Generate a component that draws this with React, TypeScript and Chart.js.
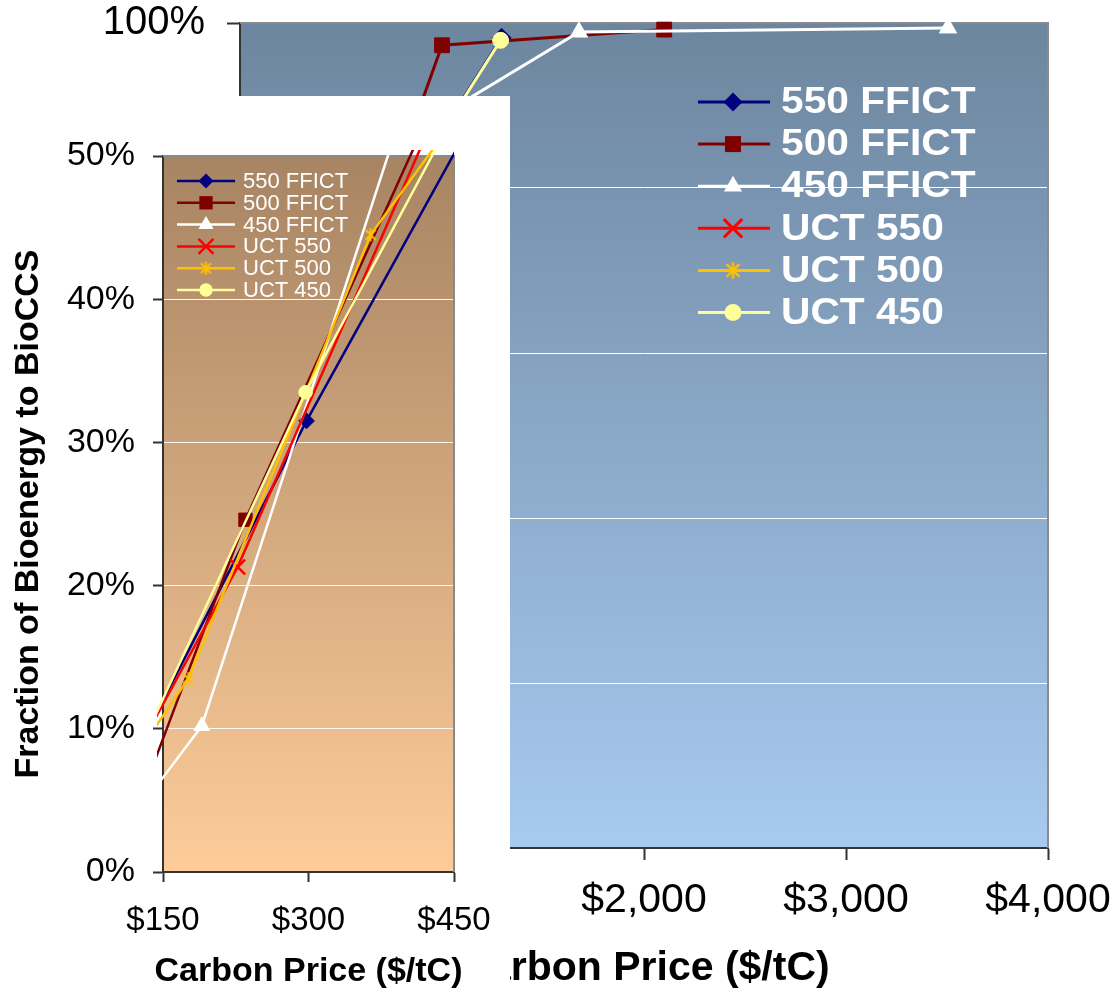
import React, { useEffect, useRef } from "react";
import { Chart, registerables } from "chart.js";

Chart.register(...registerables);

const FONT = "'Liberation Sans', Arial, Helvetica, sans-serif";

// Series (carbon price in $/tC, fraction of bioenergy to BioCCS in %)
const seriesNames = ["550 FFICT", "500 FFICT", "450 FFICT", "UCT 550", "UCT 500", "UCT 450"];
const seriesColors = ["#000080", "#800000", "#FFFFFF", "#FF0000", "#FFC000", "#FFFF99"];
const seriesStyles = ["rectRot", "rect", "triangle", "crossRot", "star", "circle"];

const ffict550Price = [100, 298, 633, 1295];
const ffict550Share = [5.4, 31.5, 72.6, 98.2];
const ffict500Price = [120, 235, 485, 1000, 2100];
const ffict500Share = [3.9, 24.6, 62, 97.3, 99.2];
const ffict450Price = [110, 190, 536, 1678, 3505];
const ffict450Share = [3.0, 10.2, 82, 98.9, 99.4];
const uct550Price = [100, 227, 515];
const uct550Share = [5.5, 21.3, 66];
const uct500Price = [120, 176, 364, 520];
const uct500Share = [7.9, 13.5, 44.5, 59];
const uct450Price = [100, 297, 593, 1290];
const uct450Share = [4.8, 33.5, 71, 97.9];

const seriesPrices = [ffict550Price, ffict500Price, ffict450Price, uct550Price, uct500Price, uct450Price];
const seriesShares = [ffict550Share, ffict500Share, ffict450Share, uct550Share, uct500Share, uct450Share];

// Axes
const mainPriceRange = [0, 4000, 1000];
const mainShareRange = [0, 100, 20];
const insetPriceRange = [150, 450, 150];
const insetShareRange = [0, 50, 10];
const xTitle = "Carbon Price ($/tC)";
const yTitle = "Fraction of Bioenergy to BioCCS";

function makeStar(size: number, color: string, lw: number) {
  const c = document.createElement("canvas");
  c.width = size;
  c.height = size;
  const g = c.getContext("2d")!;
  g.strokeStyle = color;
  g.lineWidth = lw;
  const m = size / 2;
  const r = size / 2 - lw / 2;
  const d = r * 0.78;
  g.beginPath();
  g.moveTo(m, m - r);
  g.lineTo(m, m + r);
  g.moveTo(m - d, m - d);
  g.lineTo(m + d, m + d);
  g.moveTo(m - d, m + d);
  g.lineTo(m + d, m - d);
  g.stroke();
  return c;
}

function drawMarker(ctx: CanvasRenderingContext2D, style: string, x: number, y: number, r: number, color: string, lw: number, img: HTMLCanvasElement) {
  ctx.save();
  ctx.fillStyle = color;
  ctx.strokeStyle = color;
  ctx.lineWidth = lw;
  ctx.beginPath();
  if (style === "rectRot") {
    ctx.moveTo(x, y - r);
    ctx.lineTo(x + r, y);
    ctx.lineTo(x, y + r);
    ctx.lineTo(x - r, y);
    ctx.closePath();
    ctx.fill();
  } else if (style === "rect") {
    const h = r * Math.SQRT1_2;
    ctx.rect(x - h, y - h, 2 * h, 2 * h);
    ctx.fill();
  } else if (style === "triangle") {
    ctx.moveTo(x, y - r);
    ctx.lineTo(x + 0.866 * r, y + 0.5 * r);
    ctx.lineTo(x - 0.866 * r, y + 0.5 * r);
    ctx.closePath();
    ctx.fill();
  } else if (style === "crossRot") {
    const d = r * Math.SQRT1_2;
    ctx.moveTo(x - d, y - d);
    ctx.lineTo(x + d, y + d);
    ctx.moveTo(x - d, y + d);
    ctx.lineTo(x + d, y - d);
    ctx.stroke();
  } else if (style === "star") {
    ctx.drawImage(img, x - img.width / 2, y - img.height / 2);
  } else {
    ctx.arc(x, y, r, 0, Math.PI * 2);
    ctx.fill();
  }
  ctx.restore();
}

function backgroundPlugin(top: string, bottom: string, white: boolean) {
  return {
    id: "bg",
    beforeDraw(chart: any) {
      const { ctx, chartArea } = chart;
      ctx.save();
      if (white) {
        ctx.fillStyle = "#ffffff";
        ctx.fillRect(0, 0, chart.width, chart.height);
      }
      const g = ctx.createLinearGradient(0, chartArea.top, 0, chartArea.bottom);
      g.addColorStop(0, top);
      g.addColorStop(1, bottom);
      ctx.fillStyle = g;
      ctx.fillRect(chartArea.left, chartArea.top, chartArea.right - chartArea.left, chartArea.bottom - chartArea.top);
      ctx.restore();
    },
    beforeDatasetsDraw(chart: any) {
      const { ctx, chartArea } = chart;
      ctx.save();
      ctx.strokeStyle = "#8a8a8a";
      ctx.lineWidth = 2;
      ctx.beginPath();
      ctx.moveTo(chartArea.left, chartArea.top);
      ctx.lineTo(chartArea.right, chartArea.top);
      ctx.lineTo(chartArea.right, chartArea.bottom);
      ctx.stroke();
      ctx.restore();
    },
  };
}

function bottomTitlePlugin(text: string, y: number, font: string) {
  return {
    id: "bottomTitle",
    afterDraw(chart: any) {
      const { ctx, chartArea } = chart;
      ctx.save();
      ctx.fillStyle = "#000";
      ctx.font = font;
      ctx.textAlign = "center";
      ctx.textBaseline = "middle";
      ctx.fillText(text, (chartArea.left + chartArea.right) / 2, y);
      ctx.restore();
    },
  };
}

function legendPlugin(cfg: any) {
  return {
    id: "customLegend",
    afterDatasetsDraw(chart: any) {
      const { ctx } = chart;
      chart.data.datasets.forEach((ds: any, i: number) => {
        const y = cfg.y0 + i * cfg.dy;
        ctx.save();
        ctx.strokeStyle = seriesColors[i];
        ctx.lineWidth = cfg.lineWidth;
        ctx.beginPath();
        ctx.moveTo(cfg.x0, y);
        ctx.lineTo(cfg.x1, y);
        ctx.stroke();
        ctx.restore();
        drawMarker(ctx, seriesStyles[i], cfg.mx, y, cfg.radii[i], seriesColors[i], cfg.markerLw, cfg.star);
        ctx.save();
        ctx.fillStyle = "#ffffff";
        ctx.font = cfg.font;
        ctx.textBaseline = "middle";
        ctx.textAlign = "left";
        ctx.translate(cfg.tx, y);
        ctx.scale(cfg.sx, 1);
        ctx.fillText(ds.label, 0, 1);
        ctx.restore();
      });
    },
  };
}

function fixSize(prop: "width" | "height", v: number) {
  return (s: any) => {
    s[prop] = v;
    s.paddingLeft = 0;
    s.paddingRight = 0;
    s.paddingTop = 0;
    s.paddingBottom = 0;
  };
}

function buildDatasets(radii: number[], star: HTMLCanvasElement, lw: number, clip: any) {
  return seriesNames.map((name, i) => ({
    label: name,
    data: seriesPrices[i].map((p, j) => ({ x: p, y: seriesShares[i][j] })),
    borderColor: seriesColors[i],
    backgroundColor: seriesColors[i],
    pointBackgroundColor: seriesColors[i],
    pointBorderColor: seriesColors[i],
    pointStyle: seriesStyles[i] === "star" ? star : seriesStyles[i],
    pointRadius: radii[i],
    pointBorderWidth: seriesStyles[i] === "crossRot" ? lw : 1,
    borderWidth: lw,
    tension: 0,
    fill: false,
    order: 10 - i,
    clip,
  }));
}

export default function App() {
  const mainRef = useRef<HTMLCanvasElement>(null);
  const insetRef = useRef<HTMLCanvasElement>(null);

  useEffect(() => {
    const starMain = makeStar(18, "#FFC000", 2.5);
    const starInset = makeStar(15, "#FFC000", 2);
    const starMainLeg = makeStar(19, "#FFC000", 2.5);

    const mainChart = new Chart(mainRef.current!, {
      type: "line",
      data: { datasets: buildDatasets([9.5, 10.5, 10, 12, 9, 8], starMain, 3, false) as any },
      options: {
        responsive: false,
        animation: false,
        events: [],
        layout: { padding: { left: 0, top: 23, right: 70, bottom: 0 } },
        plugins: { legend: { display: false }, tooltip: { enabled: false } },
        scales: {
          x: {
            type: "linear",
            min: mainPriceRange[0],
            max: mainPriceRange[1],
            afterFit: fixSize("height", 153),
            ticks: {
              stepSize: mainPriceRange[2],
              callback: (v: any) => "$" + Number(v).toLocaleString("en-US"),
              font: { family: FONT, size: 41, lineHeight: 1 },
              color: "#000",
              padding: 20,
              maxRotation: 0,
              autoSkip: false,
            },
            grid: { drawOnChartArea: false, tickLength: 12, tickColor: "#333", tickWidth: 2 },
            border: { color: "#333", width: 2 },
            title: { display: true, text: xTitle, color: "#000", font: { family: FONT, size: 41, weight: "bold", lineHeight: 1.2 }, padding: { top: 0, bottom: 8 } },
          },
          y: {
            min: mainShareRange[0],
            max: mainShareRange[1],
            afterFit: fixSize("width", 240),
            ticks: {
              stepSize: mainShareRange[2],
              callback: (v: any) => v + "%",
              font: { family: FONT, size: 40, lineHeight: 1 },
              color: "#000",
              padding: 22,
            },
            grid: { color: "#ffffff", lineWidth: 1, tickColor: "#333", tickLength: 13, tickWidth: 2 },
            border: { color: "#333", width: 2 },
            title: { display: true, text: yTitle, color: "#000", font: { family: FONT, size: 34, weight: "bold" }, padding: { top: 8, bottom: 0 } },
          },
        },
      } as any,
      plugins: [
        backgroundPlugin("#6D869F", "#A7CAF0", false),
        legendPlugin({ y0: 102, dy: 42.1, x0: 698, x1: 770, mx: 733, tx: 781, lineWidth: 3, markerLw: 3, radii: [9.5, 11.3, 10.5, 13, 9, 8.5], font: "bold 37px " + FONT, sx: 1.1, star: starMainLeg }),
      ],
    });

    const insetChart = new Chart(insetRef.current!, {
      type: "line",
      data: { datasets: buildDatasets([7.8, 9.4, 9, 10.5, 7, 6.8], starInset, 2.5, { left: 6, top: 6, right: 0, bottom: 0 }) as any },
      options: {
        responsive: false,
        animation: false,
        events: [],
        layout: { padding: { left: 0, top: 60, right: 56, bottom: 0 } },
        plugins: { legend: { display: false }, tooltip: { enabled: false } },
        scales: {
          x: {
            type: "linear",
            min: insetPriceRange[0],
            max: insetPriceRange[1],
            afterFit: fixSize("height", 129),
            ticks: {
              stepSize: insetPriceRange[2],
              callback: (v: any) => "$" + v,
              font: { family: FONT, size: 33, lineHeight: 1 },
              color: "#000",
              padding: 22,
              maxRotation: 0,
              autoSkip: false,
            },
            grid: { drawOnChartArea: false, tickLength: 10, tickColor: "#333", tickWidth: 2 },
            border: { color: "#333", width: 2 },
            title: { display: false },
          },
          y: {
            min: insetShareRange[0],
            max: insetShareRange[1],
            afterFit: fixSize("width", 163),
            ticks: {
              stepSize: insetShareRange[2],
              callback: (v: any) => v + "%",
              font: { family: FONT, size: 34, lineHeight: 1 },
              color: "#000",
              padding: 18,
            },
            grid: { color: "rgba(255,255,255,0.9)", lineWidth: 1, tickColor: "#333", tickLength: 10, tickWidth: 2 },
            border: { color: "#333", width: 2 },
            title: { display: true, text: yTitle, color: "#000", font: { family: FONT, size: 34, weight: "bold", lineHeight: 1.2 }, padding: { top: 8, bottom: 0 } },
          },
        },
      } as any,
      plugins: [
        backgroundPlugin("#A78463", "#FDCC99", true),
        bottomTitlePlugin(xTitle, 876, "bold 34px " + FONT),
        legendPlugin({ y0: 85, dy: 21.8, x0: 177, x1: 235, mx: 206, tx: 243, lineWidth: 2.5, markerLw: 2.5, radii: [7.5, 9.4, 8.7, 10.5, 7, 6.7], font: "22px " + FONT, sx: 1.0, star: starInset }),
      ],
    });

    return () => {
      mainChart.destroy();
      insetChart.destroy();
    };
  }, []);

  return (
    <div style={{ position: "fixed", left: 0, top: 0, width: 1118, height: 1001, background: "#ffffff", overflow: "hidden" }}>
      <canvas ref={mainRef} width={1118} height={1001} style={{ position: "absolute", left: 0, top: 0, width: 1118, height: 1001 }} />
      <div style={{ position: "absolute", left: 0, top: 96, width: 510, height: 905, background: "#ffffff" }}>
        <canvas ref={insetRef} width={510} height={905} style={{ position: "absolute", left: 0, top: 0, width: 510, height: 905 }} />
      </div>
    </div>
  );
}
